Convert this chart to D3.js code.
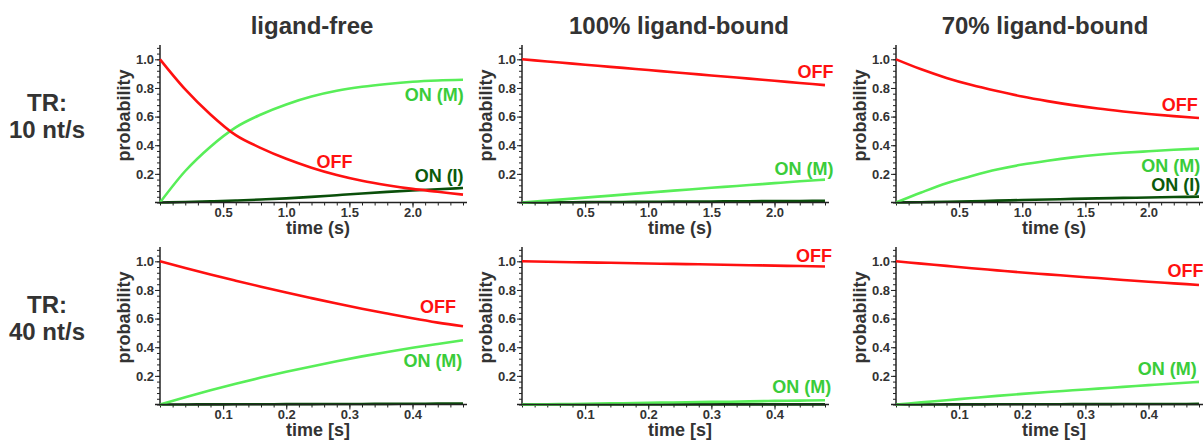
<!DOCTYPE html>
<html>
<head>
<meta charset="utf-8">
<script src="https://cdn.jsdelivr.net/npm/d3@7"></script>
<style>
    body { margin: 0; background: #fff; }
    svg text { font-family: "Liberation Sans", Arial, sans-serif; font-weight: bold; }
</style>
</head>
<body>
<div id="chart"></div>
<script>
// time grids (s)
var times10 = [0, 0.2, 0.4, 0.6, 0.8, 1.0, 1.2, 1.4, 1.6, 1.8, 2.0, 2.2, 2.4];
var times40 = [0, 0.04, 0.08, 0.12, 0.16, 0.2, 0.24, 0.28, 0.32, 0.36, 0.4, 0.44, 0.48];

// TR 10 nt/s
var free10Off = [1.0, 0.79, 0.615, 0.47, 0.38, 0.305, 0.243, 0.192, 0.152, 0.121, 0.095, 0.075, 0.055];
var free10OnM = [0, 0.22, 0.39, 0.525, 0.615, 0.685, 0.74, 0.78, 0.808, 0.828, 0.843, 0.852, 0.857];
var free10OnI = [0, 0.003, 0.008, 0.014, 0.021, 0.029, 0.039, 0.051, 0.063, 0.074, 0.084, 0.093, 0.101];

var full10Off = [1.0, 0.985, 0.97, 0.955, 0.94, 0.925, 0.91, 0.895, 0.88, 0.865, 0.85, 0.835, 0.82];
var full10OnM = [0, 0.013, 0.027, 0.041, 0.055, 0.069, 0.083, 0.096, 0.109, 0.122, 0.135, 0.148, 0.16];
var full10OnI = [0, 0.001, 0.002, 0.003, 0.004, 0.005, 0.006, 0.007, 0.008, 0.009, 0.010, 0.011, 0.012];

var part10Off = [1.0, 0.93, 0.87, 0.82, 0.778, 0.74, 0.708, 0.68, 0.656, 0.636, 0.618, 0.603, 0.59];
var part10OnM = [0, 0.07, 0.135, 0.185, 0.23, 0.265, 0.292, 0.315, 0.333, 0.347, 0.358, 0.368, 0.376];
var part10OnI = [0, 0.002, 0.005, 0.009, 0.013, 0.017, 0.021, 0.025, 0.029, 0.032, 0.035, 0.038, 0.041];

// TR 40 nt/s
var free40Off = [1.0, 0.953, 0.908, 0.865, 0.823, 0.782, 0.743, 0.705, 0.669, 0.635, 0.602, 0.572, 0.546];
var free40OnM = [0, 0.05, 0.099, 0.145, 0.188, 0.228, 0.266, 0.302, 0.336, 0.367, 0.396, 0.423, 0.449];
var free40OnI = [0, 0.0004, 0.0008, 0.0013, 0.0018, 0.0023, 0.0029, 0.0034, 0.004, 0.0046, 0.0052, 0.0058, 0.0064];

var full40Off = [1.0, 0.997, 0.994, 0.991, 0.988, 0.985, 0.982, 0.979, 0.976, 0.973, 0.97, 0.967, 0.964];
var full40OnM = [0, 0.002, 0.004, 0.007, 0.009, 0.012, 0.014, 0.017, 0.019, 0.022, 0.025, 0.027, 0.03];
var full40OnI = [0, 0.0001, 0.0002, 0.0003, 0.0004, 0.0005, 0.0006, 0.0007, 0.0008, 0.0009, 0.001, 0.0011, 0.0012];

var part40Off = [1.0, 0.984, 0.968, 0.952, 0.937, 0.922, 0.909, 0.896, 0.883, 0.87, 0.857, 0.846, 0.835];
var part40OnM = [0, 0.015, 0.03, 0.045, 0.06, 0.074, 0.087, 0.099, 0.111, 0.123, 0.135, 0.147, 0.158];
var part40OnI = [0, 0.0003, 0.0007, 0.001, 0.0014, 0.0017, 0.0021, 0.0024, 0.0028, 0.0031, 0.0035, 0.0038, 0.0042];

var columnTitles = ['ligand-free', '100% ligand-bound', '70% ligand-bound'];
var rowTitles = [['TR:', '10 nt/s'], ['TR:', '40 nt/s']];
var xLabels = ['time (s)', 'time [s]'];
var xMax = [2.4, 0.48];
var xMajor = [[0.5, 1.0, 1.5, 2.0], [0.1, 0.2, 0.3, 0.4]];
var xMinorStep = [0.1, 0.02];
var yMajor = [0.2, 0.4, 0.6, 0.8, 1.0];

var colOff = '#ff1010', colOnM = '#58ee58', colOnI = '#0a4f0a';
var labOff = '#ff1010', labOnM = '#3acc3a', labOnI = '#0b5a0b';

var panels = [
    { row: 0, col: 0, off: free10Off, onM: free10OnM, onI: free10OnI,
      labels: [['ON (M)', 2.405, 0.707, labOnM, 'end'], ['OFF', 1.524, 0.239, labOff, 'end'], ['ON (I)', 2.405, 0.142, labOnI, 'end']] },
    { row: 0, col: 1, off: full10Off, onM: full10OnM, onI: full10OnI,
      labels: [['OFF', 2.468, 0.869, labOff, 'end'], ['ON (M)', 2.468, 0.192, labOnM, 'end']] },
    { row: 0, col: 2, off: part10Off, onM: part10OnM, onI: part10OnI,
      labels: [['OFF', 2.39, 0.638, labOff, 'end'], ['ON (M)', 2.41, 0.213, labOnM, 'end'], ['ON (I)', 2.41, 0.08, labOnI, 'end']] },
    { row: 1, col: 0, off: free40Off, onM: free40OnM, onI: free40OnI,
      labels: [['OFF', 0.469, 0.637, labOff, 'end'], ['ON (M)', 0.479, 0.26, labOnM, 'end']] },
    { row: 1, col: 1, off: full40Off, onM: full40OnM, onI: full40OnI,
      labels: [['OFF', 0.491, 0.993, labOff, 'end'], ['ON (M)', 0.49, 0.079, labOnM, 'end']] },
    { row: 1, col: 2, off: part40Off, onM: part40OnM, onI: part40OnI,
      labels: [['OFF', 0.43, 0.889, labOff, 'start'], ['ON (M)', 0.383, 0.204, labOnM, 'start']] }
];

var width = 1203;
var height = 442;
var colX = [160, 522, 896];
var rowY = [202.5, 404.5];
var plotW = 303;
var plotH = 157.5;
var textCol = '#333';

var svg = d3.select('#chart')
    .append('svg')
    .attr('width', width)
    .attr('height', height);

// column and row headings
svg.selectAll('.coltitle')
    .data(columnTitles)
    .enter().append('text')
    .attr('class', 'coltitle')
    .attr('x', function (d, i) { return colX[i] + [152, 157, 149][i]; })
    .attr('y', 34)
    .attr('text-anchor', 'middle')
    .style('font-size', '24px')
    .style('fill', textCol)
    .text(function (d) { return d; });

rowTitles.forEach(function (lines, r) {
    var t = svg.append('text')
        .attr('text-anchor', 'middle')
        .style('font-size', '24px')
        .style('fill', textCol);
    lines.forEach(function (line, k) {
        t.append('tspan')
            .attr('x', 47)
            .attr('y', rowY[r] - 92 + k * 27)
            .text(line);
    });
});

panels.forEach(function (p) {
    var x0 = colX[p.col];
    var y0 = rowY[p.row];
    var times = p.row === 0 ? times10 : times40;

    var x = d3.scaleLinear().domain([0, xMax[p.row]]).range([x0, x0 + plotW]);
    var y = d3.scaleLinear().domain([0, 1.1]).range([y0, y0 - plotH]);

    var g = svg.append('g');

    // minor ticks
    var xMinor = d3.range(0, xMax[p.row] + 1e-9, xMinorStep[p.row]);
    g.append('g')
        .attr('transform', 'translate(0,' + y0 + ')')
        .call(d3.axisBottom(x).tickValues(xMinor).tickSize(3).tickFormat(''))
        .call(function (a) { a.select('.domain').remove(); });
    g.append('g')
        .attr('transform', 'translate(' + x0 + ',0)')
        .call(d3.axisLeft(y).tickValues(d3.range(0, 1.1, 0.04)).tickSize(3).tickFormat(''))
        .call(function (a) { a.select('.domain').remove(); });

    // major ticks
    g.append('g')
        .attr('class', 'axis')
        .attr('transform', 'translate(0,' + y0 + ')')
        .call(d3.axisBottom(x).tickValues(xMajor[p.row]).tickSize(5).tickPadding(0).tickFormat(d3.format('.1f')))
        .call(function (a) { a.select('.domain').remove(); });
    g.append('g')
        .attr('class', 'axis')
        .attr('transform', 'translate(' + x0 + ',0)')
        .call(d3.axisLeft(y).tickValues(yMajor).tickSize(5).tickPadding(1).tickFormat(d3.format('.1f')))
        .call(function (a) { a.select('.domain').remove(); });

    g.selectAll('.tick line').style('stroke', '#222').style('stroke-width', 1);
    g.selectAll('.axis text')
        .style('font-size', '13px')
        .style('fill', textCol)
        .style('font-family', '"Liberation Sans", Arial, sans-serif');

    // axis lines
    g.append('line')
        .attr('x1', x0).attr('x2', x0)
        .attr('y1', y0 + 1).attr('y2', y(1.1))
        .style('stroke', '#222').style('stroke-width', 1.5);

    // curves
    var line = d3.line()
        .x(function (d) { return x(d[0]); })
        .y(function (d) { return y(d[1]); })
        .curve(d3.curveMonotoneX);

    [[p.onI, colOnI], [p.onM, colOnM], [p.off, colOff]].forEach(function (s) {
        g.append('path')
            .datum(times.map(function (t, i) { return [t, s[0][i]]; }))
            .attr('d', line)
            .style('fill', 'none')
            .style('stroke', s[1])
            .style('stroke-width', 2.6);
    });

    g.append('line')
        .attr('x1', x0 - 5).attr('x2', x0 + plotW + 4)
        .attr('y1', y0).attr('y2', y0)
        .style('stroke', '#222').style('stroke-width', 1.5);

    // curve labels
    p.labels.forEach(function (l) {
        g.append('text')
            .attr('x', x(l[1]))
            .attr('y', y(l[2]))
            .attr('text-anchor', l[4])
            .style('font-size', '18px')
            .style('fill', l[3])
            .text(l[0]);
    });

    // axis titles
    g.append('text')
        .attr('x', x0 + 158)
        .attr('y', y0 + 31.5)
        .attr('text-anchor', 'middle')
        .style('font-size', '18px')
        .style('fill', textCol)
        .text(xLabels[p.row]);

    g.append('text')
        .attr('transform', 'translate(' + (x0 - 30) + ',' + (y0 - 87) + ')rotate(-90)')
        .attr('text-anchor', 'middle')
        .style('font-size', '18px')
        .style('fill', textCol)
        .text('probability');
});
</script>
</body>
</html>
